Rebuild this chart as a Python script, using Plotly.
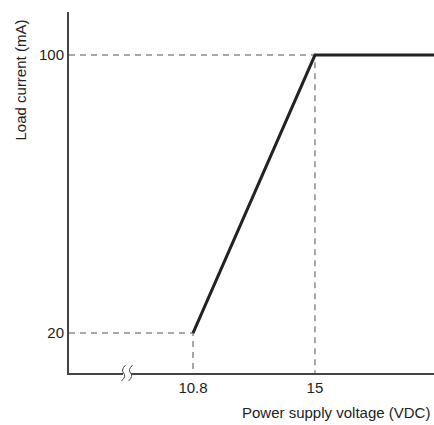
import plotly.graph_objects as go

# characteristic: load current vs supply voltage
voltage = [10.8, 15, 19.2]
current = [20, 100, 100]

x_ticks = [10.8, 15]
x_labels = ["10.8", "15"]
y_ticks = [20, 100]
y_labels = ["20", "100"]

x_min, x_max = 6.53, 19.1
y_min, y_max = 8.5, 112.4

fig = go.Figure()

# dashed guide lines to the corner points
for vx, cy in [(10.8, 20), (15, 100)]:
    fig.add_trace(go.Scatter(
        x=[x_min, vx, vx], y=[cy, cy, y_min],
        mode="lines", line=dict(color="#8a8a8a", width=1.5, dash="6px,5px"),
        hoverinfo="skip", showlegend=False, cliponaxis=False,
    ))

fig.add_trace(go.Scatter(
    x=voltage, y=current, mode="lines",
    line=dict(color="#222222", width=3),
    showlegend=False,
))

fig.update_layout(
    width=434, height=425,
    paper_bgcolor="white", plot_bgcolor="white",
    margin=dict(l=69, r=0, t=12, b=52),
    font=dict(family="Liberation Sans, Arial", size=15, color="#222"),
    xaxis=dict(
        range=[x_min, x_max], tickvals=x_ticks, ticktext=x_labels,
        showgrid=False, zeroline=False, showline=True,
        linecolor="#444", linewidth=2, ticks="", ticklen=0,
    ),
    yaxis=dict(
        range=[y_min, y_max], tickvals=y_ticks, ticktext=y_labels,
        showgrid=False, zeroline=False, showline=True,
        linecolor="#444", linewidth=2, ticks="", ticklen=0,
    ),
)

# axis break mark on the x axis (px -> data/paper units)
px_x = (x_max - x_min) / 365
px_y = 1 / 361
bx = 8.53
fig.add_shape(type="rect", xref="x", yref="paper", x0=bx - 4 * px_x, x1=bx + 4 * px_x,
              y0=-4 * px_y, y1=4 * px_y, fillcolor="white", line_width=0, layer="above")
for off in (-3.5, 3.5):
    cx = bx + off * px_x
    pts = [(cx + 2 * px_x, 8 * px_y), (cx - 3 * px_x, 3 * px_y), (cx, 0),
           (cx + 3 * px_x, -3 * px_y), (cx - 2 * px_x, -8 * px_y)]
    path = "M {},{} Q {},{} {},{} Q {},{} {},{}".format(*[v for p in pts for v in p])
    fig.add_shape(type="path", xref="x", yref="paper", path=path,
                  line=dict(color="#444", width=1), layer="above")

fig.add_annotation(
    text="Load current (mA)", xref="paper", yref="paper",
    x=-59 / 365, y=1 - 68 / 361, xanchor="left", yanchor="middle",
    textangle=-90, showarrow=False,
)
fig.add_annotation(
    text="Power supply voltage (VDC)", xref="paper", yref="paper",
    x=0.995, y=-39 / 361, xanchor="right", yanchor="middle",
    showarrow=False,
)

fig.write_html(
    "out.html",
    config={"displayModeBar": False},
    post_script="document.body.style.margin='0';document.body.style.overflow='hidden';",
)
